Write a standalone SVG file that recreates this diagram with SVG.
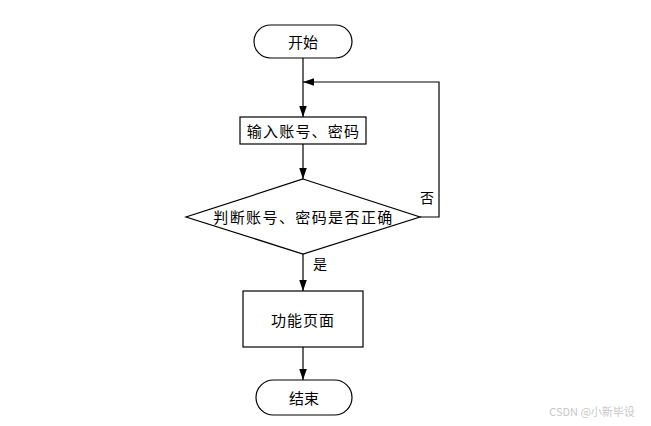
<svg xmlns="http://www.w3.org/2000/svg" width="651" height="426" viewBox="0 0 651 426">
<style>
.s{fill:#fff;stroke:#000;stroke-width:1.2}
.t{font-family:"Noto Sans CJK SC","Liberation Sans",sans-serif;font-size:15px;fill:#000;text-anchor:middle;dominant-baseline:central}
.c{fill:none;stroke:#000;stroke-width:1.2}
</style>
<defs>
<marker id="a" markerWidth="11" markerHeight="16" refX="16" refY="5.5" viewBox="0 0 16 11" orient="auto" markerUnits="userSpaceOnUse">
<path d="M0,0 L16,5.5 L0,11 Z" fill="#000"/>
</marker>
</defs>
<rect width="651" height="426" fill="#fff"/>
<g id="connectors">
<line class="c" x1="303" y1="58" x2="303" y2="117" marker-end="url(#a)"/>
<line class="c" x1="303" y1="144" x2="303" y2="179" marker-end="url(#a)"/>
<polyline class="c" points="420,217 439,217 439,82 303,82" marker-end="url(#a)"/>
<line class="c" x1="303" y1="254" x2="303" y2="291" marker-end="url(#a)"/>
<line class="c" x1="303" y1="347" x2="303" y2="380" marker-end="url(#a)"/>
<text class="t" x="427" y="197" style="font-size:14px">否</text>
<text class="t" x="320" y="263" style="font-size:14px">是</text>
</g>
<g id="start">
<rect class="s" x="254" y="25" width="98" height="33" rx="16.5"/>
<text class="t" x="303" y="41.5">开始</text>
</g>
<g id="input">
<rect class="s" x="240" y="117" width="126" height="27"/>
<text class="t" x="303.5" y="130.5" style="letter-spacing:1.2px">输入账号、密码</text>
</g>
<g id="check">
<polygon class="s" points="303,179 420,217 303,254 186,217"/>
<text class="t" x="303.5" y="216.5" style="letter-spacing:1.4px">判断账号、密码是否正确</text>
</g>
<g id="func">
<rect class="s" x="243" y="291" width="120" height="56"/>
<text class="t" x="303" y="319" style="letter-spacing:1px">功能页面</text>
</g>
<g id="end">
<rect class="s" x="256" y="380" width="96" height="35" rx="17.5"/>
<text class="t" x="304" y="397.5">结束</text>
</g>
<text x="592" y="411" style="font-family:'Noto Sans CJK SC','Liberation Sans',sans-serif;font-size:11px;fill:#c8c8c8;text-anchor:middle;dominant-baseline:central">CSDN @小新毕设</text>
</svg>
